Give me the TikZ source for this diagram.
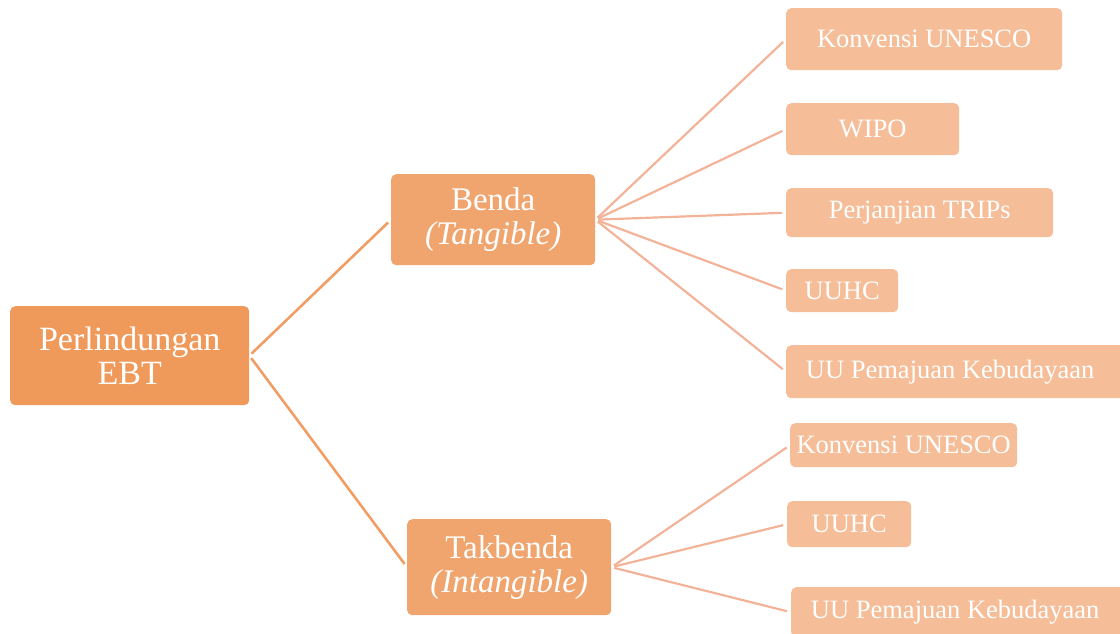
\documentclass[tikz,border=0pt]{standalone}
\usepackage{fontspec}
\setmainfont{Liberation Serif}
\begin{document}
\begin{tikzpicture}[x=1pt,y=-1pt,
  box/.style={rounded corners=5pt, inner sep=0pt, text=white, align=center, anchor=north west},
  rootbox/.style={box, fill=rootc, font=\fontsize{34}{34}\selectfont},
  midbox/.style={box, fill=midc, font=\fontsize{33}{34}\selectfont},
  leafbox/.style={box, fill=leafc, font=\fontsize{26.5}{28}\selectfont},
  rootline/.style={draw=rootl, line width=2.6pt, shorten <=3pt, shorten >=4pt},
  leafline/.style={draw=leafl, line width=2.2pt, shorten <=3pt, shorten >=4pt}]
\definecolor{rootc}{HTML}{EF995B}
\definecolor{midc}{HTML}{F0A56F}
\definecolor{leafc}{HTML}{F5BE99}
\definecolor{rootl}{HTML}{F09E66}
\definecolor{leafl}{HTML}{F3B399}
\useasboundingbox (0,0) rectangle (1120,633);
\begin{scope}
\clip (0,0) rectangle (1120,633);
\node[rootbox, minimum width=239pt, minimum height=99pt] (root) at (10,306) {Perlindungan\\EBT};
\node[midbox, minimum width=204pt, minimum height=91pt] (benda) at (391,174) {Benda\\\textit{(Tangible)}};
\node[midbox, minimum width=204pt, minimum height=96pt] (takbenda) at (407,519) {Takbenda\\\textit{(Intangible)}};
\node[leafbox, minimum width=276pt, minimum height=62pt] (l1) at (786,8) {Konvensi UNESCO};
\node[leafbox, minimum width=173pt, minimum height=52pt] (l2) at (786,103) {WIPO};
\node[leafbox, minimum width=267pt, minimum height=49pt] (l3) at (786,188) {Perjanjian TRIPs};
\node[leafbox, minimum width=112pt, minimum height=43pt] (l4) at (786,269) {UUHC};
\node[leafbox, minimum width=340pt, minimum height=53pt] (l5) at (786,345) {\hspace{-6pt}UU Pemajuan Kebudayaan\hspace{6pt}};
\node[leafbox, minimum width=227pt, minimum height=44pt] (l6) at (790,423) {Konvensi UNESCO};
\node[leafbox, minimum width=124pt, minimum height=46pt] (l7) at (787,501) {UUHC};
\node[leafbox, minimum width=340pt, minimum height=50pt] (l8) at (791,587) {\hspace{-6pt}UU Pemajuan Kebudayaan\hspace{6pt}};
\end{scope}
\draw[rootline] (root.east) -- (benda.west);
\draw[rootline] (root.east) -- (takbenda.west);
\foreach \n in {l1,l2,l3,l4,l5} \draw[leafline] (benda.east) -- (\n.west);
\foreach \n in {l6,l7,l8} \draw[leafline] (takbenda.east) -- (\n.west);
\end{tikzpicture}
\end{document}
